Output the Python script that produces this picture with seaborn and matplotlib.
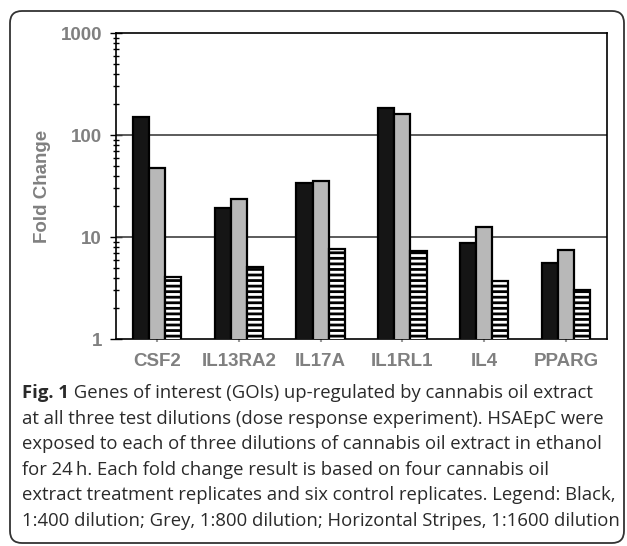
import matplotlib
matplotlib.use("Agg")
import matplotlib.pyplot as plt
import matplotlib.ticker as mticker
from matplotlib.patches import FancyBboxPatch
from matplotlib.transforms import IdentityTransform
import numpy as np
import pandas as pd
import seaborn as sns

genes = ["CSF2", "IL13RA2", "IL17A", "IL1RL1", "IL4", "PPARG"]
dilutions = ["1:400", "1:800", "1:1600"]
fc_400 = [150, 19.4, 33.8, 182, 8.7, 5.5]
fc_800 = [47.8, 23.8, 35.7, 162, 12.4, 7.45]
fc_1600 = [4.05, 5.08, 7.6, 7.35, 3.68, 3.0]
ytick_vals = [1, 10, 100, 1000]
ytick_labels = ["1", "10", "100", "1000"]

caption_lines = [
    "at all three test dilutions (dose response experiment). HSAEpC were",
    "exposed to each of three dilutions of cannabis oil extract in ethanol",
    "for 24\u2009h. Each fold change result is based on four cannabis oil",
    "extract treatment replicates and six control replicates. Legend: Black,",
    "1:400 dilution; Grey, 1:800 dilution; Horizontal Stripes, 1:1600 dilution",
]
caption_head = "Fig. 1"
caption_first = " Genes of interest (GOIs) up-regulated by cannabis oil extract"

df = pd.DataFrame({
    "gene": genes * 3,
    "dilution": [d for d in dilutions for _ in genes],
    "fc": fc_400 + fc_800 + fc_1600,
})

sns.set_theme(style="white")
plt.rcParams["font.family"] = ["Liberation Sans", "DejaVu Sans"]
plt.rcParams["hatch.linewidth"] = 2.0
plt.rcParams["hatch.color"] = "black"

W, H = 627, 546
fig = plt.figure(figsize=(W / 100, H / 100), dpi=100)
fig.patch.set_facecolor("white")
ax = fig.add_axes([116 / W, 1 - 339 / H, (607 - 116) / W, (339 - 33) / H])

palette = {"1:400": "#151515", "1:800": "#b8b8b8", "1:1600": "white"}
sns.barplot(data=df, x="gene", y="fc", hue="dilution", order=genes,
            hue_order=dilutions, palette=palette, width=0.59, gap=0,
            edgecolor="black", linewidth=1.6, saturation=1, legend=False,
            ax=ax)
ax.set_yscale("log")

ncat = len(genes)
for i, p in enumerate(ax.patches):
    if i // ncat == 2:
        p.set_hatch("---")
    p.set_zorder(3)

ax.set_ylim(1, 1000)
ax.set_xlim(-0.5, ncat - 0.5)
ax.set_yticks(ytick_vals)
ax.set_yticklabels(ytick_labels)
ax.yaxis.set_minor_locator(mticker.LogLocator(base=10, subs=np.arange(2, 10)))
ax.yaxis.set_minor_formatter(mticker.NullFormatter())
ax.tick_params(axis="y", which="major", direction="inout", length=8, width=1,
               color="black", left=True, pad=6)
ax.tick_params(axis="y", which="minor", direction="inout", length=5, width=1,
               color="black", left=True)
ax.tick_params(axis="x", which="major", direction="out", length=2, width=1.5,
               color="#999999", bottom=True, pad=8)
for lab in ax.get_yticklabels() + ax.get_xticklabels():
    lab.set_fontweight("bold")
    lab.set_fontsize(13.5)
    lab.set_color("#808080")

for v in [10, 100]:
    ax.axhline(v, color="#404040", lw=1.2, zorder=1)

for s in ax.spines.values():
    s.set_visible(True)
    s.set_color("black")
    s.set_linewidth(1.2)

ax.set_xlabel("")
ax.set_ylabel("Fold Change", fontsize=13.5, fontweight="bold", color="#808080",
              labelpad=7)
ax.grid(False)

# border
box = FancyBboxPatch((10, 3), 614, 532, boxstyle="round,pad=0,rounding_size=12",
                     transform=IdentityTransform(), fill=False,
                     edgecolor="#333333", lw=1.3)
fig.patches.append(box)

cap_font = ["Open Sans", "DejaVu Sans"]
cap_size = 13.3
cap_color = "#2a2a2a"
x0 = 22 / W
y_first = 1 - 393 / H
step = 25.6 / H
renderer = fig.canvas.get_renderer()
t = fig.text(x0, y_first, caption_head, fontsize=cap_size, fontweight="bold",
             family=cap_font, color=cap_color, va="center", ha="left")
bb = t.get_window_extent(renderer=renderer)
fig.text(bb.x1 / W, y_first, caption_first, fontsize=cap_size,
         family=cap_font, color=cap_color, va="center", ha="left")
for i, line in enumerate(caption_lines):
    fig.text(x0, y_first - (i + 1) * step, line, fontsize=cap_size,
             family=cap_font, color=cap_color, va="center", ha="left")

fig.savefig("out.png", dpi=100, facecolor="white")
